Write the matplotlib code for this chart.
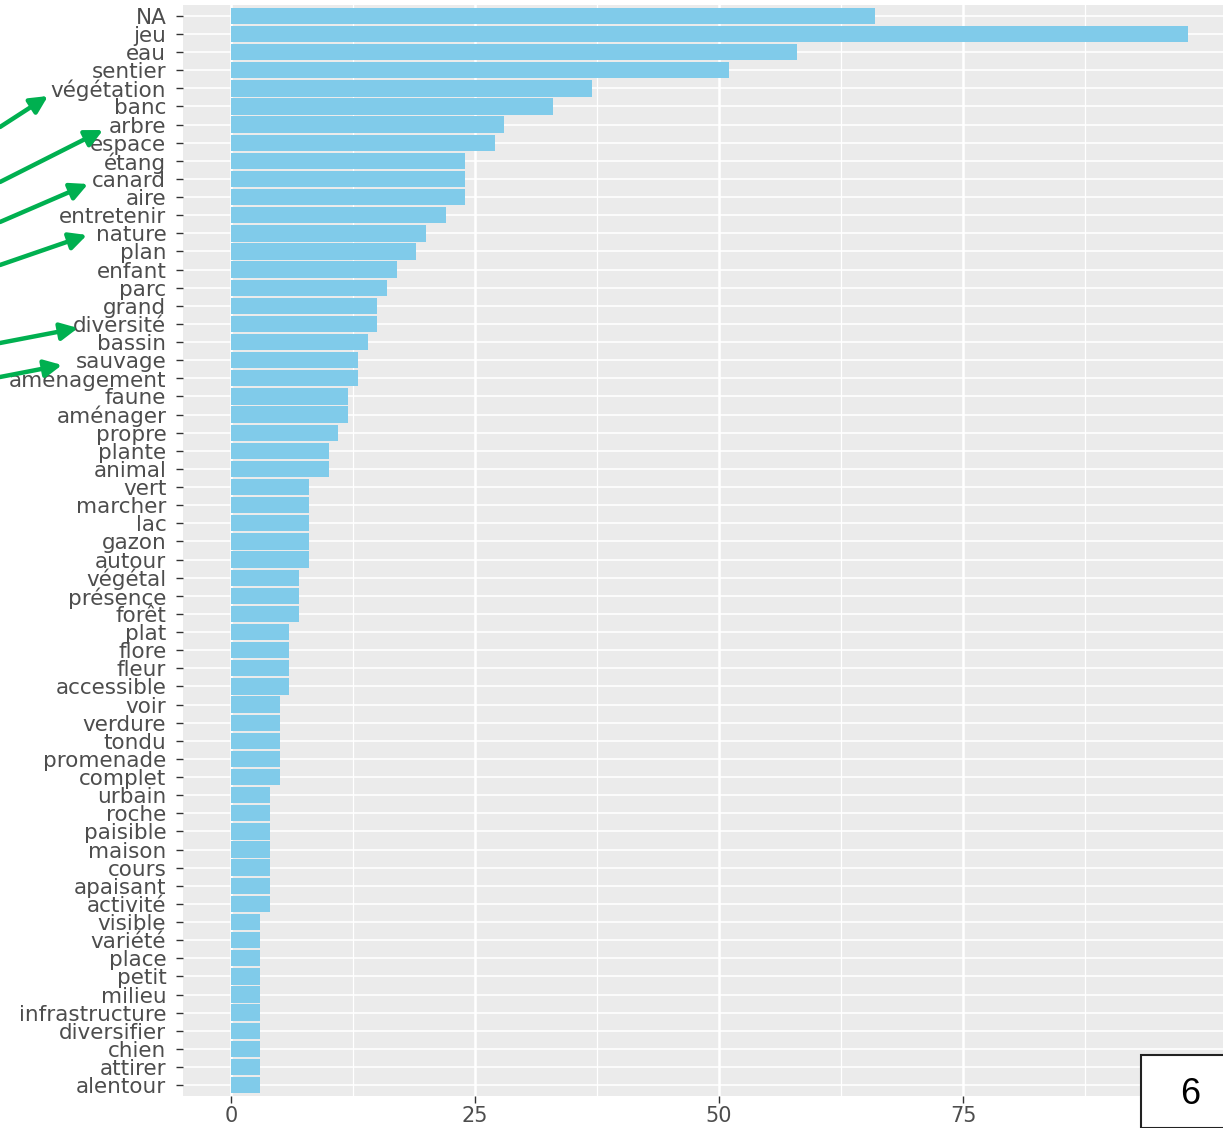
import matplotlib
matplotlib.use("Agg")
import matplotlib.pyplot as plt
from matplotlib.patches import FancyArrowPatch, Rectangle
import numpy as np

words = ["NA", "jeu", "eau", "sentier", "végétation", "banc", "arbre", "espace",
         "étang", "canard", "aire", "entretenir", "nature", "plan", "enfant", "parc",
         "grand", "diversité", "bassin", "sauvage", "aménagement", "faune", "aménager",
         "propre", "plante", "animal", "vert", "marcher", "lac", "gazon", "autour",
         "végétal", "présence", "forêt", "plat", "flore", "fleur", "accessible",
         "voir", "verdure", "tondu", "promenade", "complet", "urbain", "roche",
         "paisible", "maison", "cours", "apaisant", "activité", "visible", "variété",
         "place", "petit", "milieu", "infrastructure", "diversifier", "chien",
         "attirer", "alentour"]
counts = [66, 98, 58, 51, 37, 33, 28, 27,
          24, 24, 24, 22, 20, 19, 17, 16,
          15, 15, 14, 13, 13, 12, 12,
          11, 10, 10, 8, 8, 8, 8, 8,
          7, 7, 7, 6, 6, 6, 6,
          5, 5, 5, 5, 5, 4, 4,
          4, 4, 4, 4, 4, 3, 3,
          3, 3, 3, 3, 3, 3,
          3, 3]
x_ticks = [0, 25, 50, 75]
arrow_targets = ["végétation", "arbre", "canard", "nature", "diversité", "sauvage"]
box_label = "6"

W, H = 1223, 1128
fig = plt.figure(figsize=(W / 100, H / 100), dpi=100)
fig.patch.set_facecolor("white")
left_px, right_px, top_px, bottom_px = 183, 1223, 5, 1096
ax = fig.add_axes([left_px / W, 1 - bottom_px / H, (right_px - left_px) / W, (bottom_px - top_px) / H])
ax.set_facecolor("#EBEBEB")

n = len(words)
y = np.arange(n)
ax.barh(y, counts, height=0.9, color="#80CBEA", zorder=3)

ax.set_xlim(-4.9, 101.6)
ax.set_ylim(n - 1 + 0.6, -0.6)

ax.set_yticks(y)
ax.set_yticklabels(words, fontsize=15.5, color="#4D4D4D", family="DejaVu Sans")
ax.set_xticks(x_ticks)
ax.set_xticklabels([str(t) for t in x_ticks], fontsize=15, color="#4D4D4D")
ax.set_xticks([12.5, 37.5, 62.5, 87.5], minor=True)
ax.tick_params(axis="y", length=5, width=1, color="#333333", pad=7)
ax.tick_params(axis="x", which="major", length=5, width=1, color="#333333", pad=2)
ax.tick_params(axis="x", which="minor", length=0)

ax.grid(axis="x", which="major", color="white", linewidth=1.8, zorder=1)
ax.grid(axis="x", which="minor", color="white", linewidth=0.9, zorder=1)
ax.grid(axis="y", which="major", color="white", linewidth=1.2, zorder=1)
ax.set_axisbelow(True)
for s in ax.spines.values():
    s.set_visible(False)

# green arrows pointing at selected labels (figure pixel coordinates)
arrow_px = {
    "végétation": ((0, 127), (48, 96)),
    "arbre": ((0, 182), (103, 130)),
    "canard": ((0, 222), (88, 184)),
    "nature": ((0, 265), (87, 235)),
    "diversité": ((0, 343), (78, 328)),
    "sauvage": ((0, 377), (62, 365)),
}
for w in arrow_targets:
    (x0, y0), (x1, y1) = arrow_px[w]
    arr = FancyArrowPatch((x0 / W, 1 - y0 / H), (x1 / W, 1 - y1 / H),
                          transform=fig.transFigure, arrowstyle="-|>",
                          mutation_scale=26, color="#00B050", linewidth=3.2,
                          shrinkA=0, shrinkB=0, zorder=10)
    fig.patches.append(arr)

# page-number box
bx0, by0 = 1141, 1055
rect = Rectangle((bx0 / W, 0), (W + 5 - bx0) / W, (H - by0) / H,
                 transform=fig.transFigure, facecolor="white", edgecolor="#222222",
                 linewidth=1.5, zorder=20)
fig.patches.append(rect)
fig.text(1190 / W, 1 - 1095 / H, box_label, fontsize=26, ha="center", va="center",
         family="Liberation Sans", color="black", zorder=21)

fig.savefig("out.png", dpi=100)
